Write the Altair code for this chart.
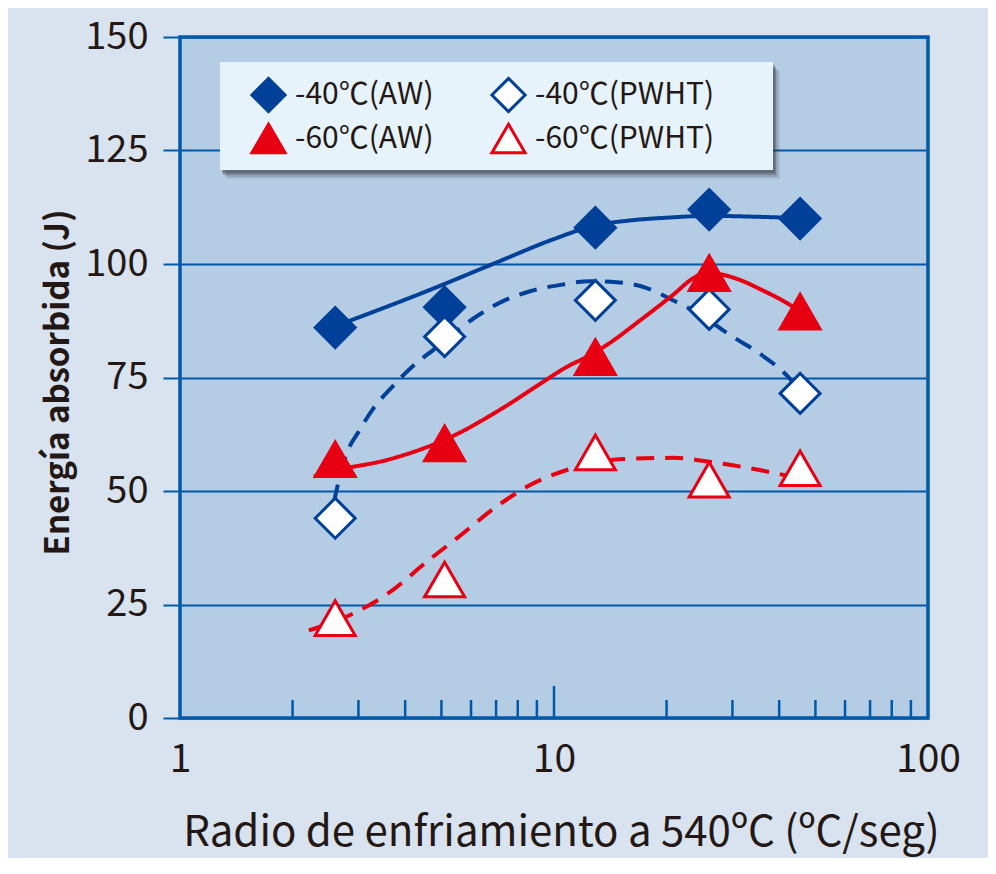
import altair as alt
import pandas as pd

# ---------------- data ----------------
series_names = ["-40℃(AW)", "-40℃(PWHT)", "-60℃(AW)", "-60℃(PWHT)"]
cooling_rate = [2.6, 5.1, 12.9, 26, 45.5]
energy_40_aw = [86, 90.5, 108, 112, 110]
energy_40_pwht = [44, 84, 92, 90, 71.5]
energy_60_aw = [57, 60.5, 79.5, 98, 89.5]
energy_60_pwht = [22, 30.5, 58.5, 52.5, 55]

# hand-drawn trend curves
trend_40_aw_x = [2.6, 4.66, 7, 10, 12.9, 16, 20, 26, 35, 45.5]
trend_40_aw_y = [86.3, 94.3, 100.3, 105.5, 108.5, 109.6, 110.2, 110.6, 110.4, 110.1]
trend_40_pwht_x = [2.58, 2.68, 2.79, 3.0, 3.29, 3.7, 4.19, 4.76, 6.09, 7.17, 8.63,
                   10.4, 12.5, 14.7, 17.7, 20.8, 25, 29, 36, 42, 45.5]
trend_40_pwht_y = [47.5, 53.5, 58.3, 63.0, 68.2, 73.0, 77.5, 81.1, 88.0, 91.5, 94.0,
                   95.4, 96.2, 96.0, 94.7, 92.0, 88.5, 84.8, 79.9, 75.4, 72.0]
trend_60_aw_x = [2.28, 2.6, 3.6, 5.27, 7.47, 9.18, 10.8, 12.2, 13.8, 17, 20.8, 23.6,
                 25.6, 28.4, 31.4, 35.5, 43.5, 45.5]
trend_60_aw_y = [53.2, 54.5, 56.9, 61.8, 68.8, 73.6, 77.3, 79.5, 82.1, 87.6, 93.2, 96.9,
                 98.2, 97.6, 96.5, 94.5, 90.6, 89.5]
trend_60_pwht_x = [2.21, 2.87, 3.58, 4.66, 5.56, 7.0, 8.63, 11.2, 14.95, 20.8, 27.7, 36, 43]
trend_60_pwht_y = [19.3, 22.8, 27.3, 35.0, 39.9, 46.5, 51.3, 55.0, 57.0, 57.3, 56.1, 54.5, 53.2]

y_ticks = [0, 25, 50, 75, 100, 125, 150]
x_labels = [1, 10, 100]
x_minor_ticks = [2, 3, 4, 5, 6, 7, 8, 9, 20, 30, 40, 50, 60, 70, 80, 90]
x_major_ticks = [10]

# ---------------- styling ----------------
BLUE = "#004098"
GRID = "#0058a8"
RED = "#e60012"
TEXT = "#231815"
FONT = "Noto Sans CJK JP"
W, H = 748, 681

point_rows = []
for name, vals in zip(series_names, [energy_40_aw, energy_40_pwht, energy_60_aw, energy_60_pwht]):
    for r, e in zip(cooling_rate, vals):
        point_rows.append({"rate": r, "energy": e, "series": name})
points_df = pd.DataFrame(point_rows)

x_scale = alt.Scale(type="log", domain=[1, 100], nice=False)
y_scale = alt.Scale(domain=[0, 150], nice=False)

x_axis = alt.Axis(values=x_labels, format="d", ticks=False, domain=False, grid=False,
                  labelFontSize=39, labelPadding=22, labelColor=TEXT, labelFont=FONT,
                  labelFlush=False,
                  title="Radio de enfriamiento a 540ºC (ºC/seg)", titleFont=FONT,
                  titleFontSize=42, titleFontWeight="normal", titleColor=TEXT,
                  titleX=381, titleY=127, titleAlign="center", titleBaseline="alphabetic")
y_axis = alt.Axis(values=y_ticks, grid=True, gridColor=GRID, gridWidth=2,
                  tickSize=17, tickWidth=2, tickColor=GRID, domain=False,
                  labelFontSize=38, labelPadding=15, labelColor=TEXT, labelFont=FONT,
                  labelFlush=False,
                  title="Energía absorbida (J)", titleFont=FONT, titleFontSize=33,
                  titleFontWeight="bold", titleColor=TEXT,
                  titleX=-112, titleY=345, titleAngle=270, titleAlign="center",
                  titleBaseline="alphabetic")

x_enc = alt.X("rate:Q", scale=x_scale, axis=x_axis)
y_enc = alt.Y("energy:Q", scale=y_scale, axis=y_axis)

one = pd.DataFrame({"k": [0]})

# legend box with soft shadow (decoration)
shadow_layers = []
for dx, dy, op in [(7, 9, 0.10), (5, 7, 0.18), (3, 5, 0.28), (2, 3, 0.30)]:
    shadow_layers.append(
        alt.Chart(one).mark_rect(color="#30343a", opacity=op).encode(
            x=alt.value(40 + dx), x2=alt.value(593 + dx),
            y=alt.value(25 + dy), y2=alt.value(133 + dy)))
legend_box = alt.Chart(one).mark_rect(color="#e6f3fb").encode(
    x=alt.value(40), x2=alt.value(593), y=alt.value(25), y2=alt.value(133))

# inward x ticks
minor_ticks = alt.Chart(pd.DataFrame({"rate": x_minor_ticks})).mark_rule(
    color=GRID, strokeWidth=2.5).encode(x=x_enc, y=alt.value(H), y2=alt.value(H - 18))
major_ticks = alt.Chart(pd.DataFrame({"rate": x_major_ticks})).mark_rule(
    color=GRID, strokeWidth=2.5).encode(x=x_enc, y=alt.value(H), y2=alt.value(H - 32))

# trend curves
curve_layers = []
for xs, ys, col, dash in [
    (trend_40_aw_x, trend_40_aw_y, BLUE, [1, 0]),
    (trend_40_pwht_x, trend_40_pwht_y, BLUE, [18, 11]),
    (trend_60_aw_x, trend_60_aw_y, RED, [1, 0]),
    (trend_60_pwht_x, trend_60_pwht_y, RED, [18, 11]),
]:
    cdf = pd.DataFrame({"rate": xs, "energy": ys})
    curve_layers.append(
        alt.Chart(cdf).mark_line(interpolate="monotone", color=col, strokeWidth=4,
                                 strokeDash=dash, clip=True).encode(x=x_enc, y=y_enc))

legend = alt.Legend(orient="none", legendX=70, legendY=39, columns=2, direction="horizontal",
                    labelFontSize=30, labelColor=TEXT, labelFont=FONT, labelLimit=400,
                    symbolSize=1100, symbolStrokeWidth=3, symbolOpacity=1,
                    rowPadding=0, columnPadding=51, labelOffset=8, padding=0)

points = alt.Chart(points_df).mark_point(opacity=1, strokeWidth=3, size=1600).encode(
    x=x_enc, y=y_enc,
    shape=alt.Shape("series:N", title=None, legend=legend,
                    scale=alt.Scale(domain=series_names,
                                    range=["diamond", "diamond", "triangle-up", "triangle-up"])),
    fill=alt.Fill("series:N", title=None, legend=legend,
                  scale=alt.Scale(domain=series_names,
                                  range=[BLUE, "#ffffff", RED, "#ffffff"])),
    stroke=alt.Stroke("series:N", title=None, legend=legend,
                      scale=alt.Scale(domain=series_names,
                                      range=[BLUE, BLUE, RED, RED])),
)

chart = alt.layer(
    *shadow_layers, legend_box, minor_ticks, major_ticks, *curve_layers, points
).properties(
    width=W, height=H,
    autosize=alt.AutoSizeParams(type="none"),
    padding={"left": 172, "top": 29, "right": 60, "bottom": 140},
    background="#d9e3ef",
).configure_view(
    fill="#b5cce5", stroke=GRID, strokeWidth=3.5,
)

chart.save("out.html", embed_options={"renderer": "svg", "actions": False})
